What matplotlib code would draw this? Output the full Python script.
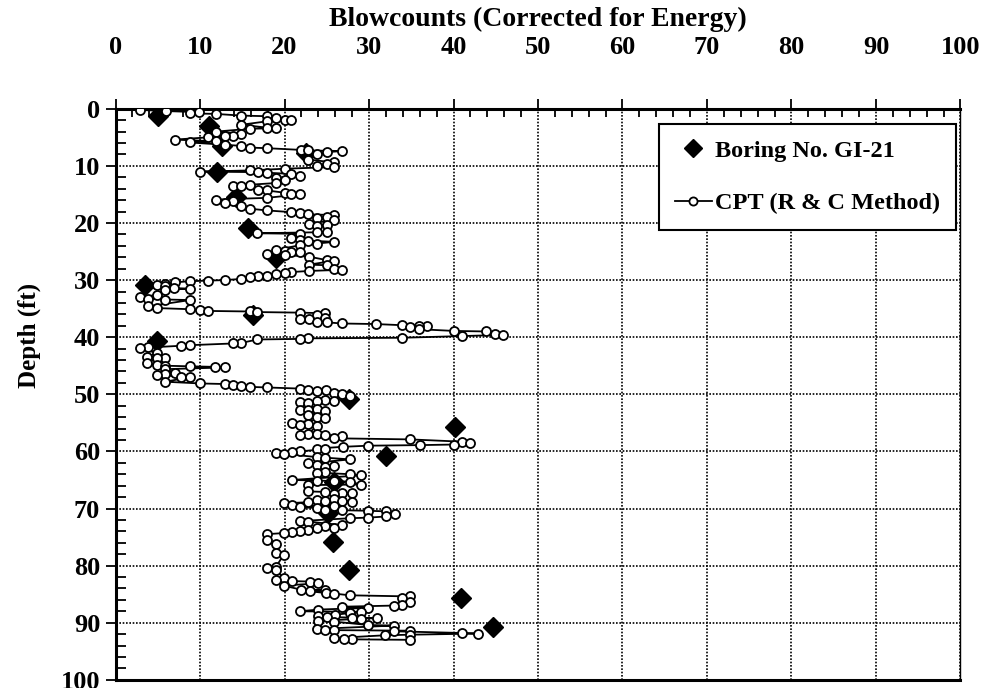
import numpy as np
import matplotlib
matplotlib.use("Agg")
import matplotlib.pyplot as plt
from matplotlib.ticker import MultipleLocator

plt.rcParams["font.family"] = ["Liberation Serif", "DejaVu Serif"]
plt.rcParams["font.weight"] = "bold"

# SPT blowcounts, Boring No. GI-21
spt_depth = [1.2, 3.1, 6.6, 7.8, 11.1, 15.4, 20.8, 26.2, 30.9, 36.1,
             40.6, 50.8, 55.8, 60.8, 65.3, 70.8, 75.8, 80.8, 85.6, 90.8]
spt_blows = [5.0, 11.1, 12.6, 22.6, 12.0, 14.3, 15.7, 19.0, 3.5, 16.3,
             4.9, 27.6, 40.2, 32.0, 25.8, 25.1, 25.7, 27.6, 40.9, 44.7]

# CPT equivalent blowcounts (R & C method)
cpt_depth = [
    0.2, 0.4, 0.6, 0.8, 0.9, 1.2, 1.3, 1.7, 1.9, 2.0,
    2.2, 2.8, 3.3, 3.4, 3.5, 4.0, 4.4, 4.7, 4.8, 5.0,
    5.4, 5.7, 5.9, 6.3, 6.5, 6.8, 6.9, 7.2, 7.3, 7.4,
    7.6, 8.0, 8.9, 9.4, 9.6, 10.0, 10.2, 10.5, 10.8, 11.0,
    11.1, 11.2, 11.4, 11.7, 12.1, 12.4, 13.0, 13.3, 13.5, 13.6,
    14.2, 14.3, 14.7, 14.9, 15.0, 15.6, 15.9, 16.2, 16.5, 17.1,
    17.5, 17.8, 18.1, 18.3, 18.5, 18.6, 18.9, 19.2, 19.4, 20.2,
    20.4, 20.6, 21.5, 21.6, 21.8, 21.9, 22.6, 23.0, 23.1, 23.3,
    23.6, 23.9, 24.7, 24.9, 25.0, 25.1, 25.5, 25.6, 25.9, 26.5,
    26.6, 27.3, 27.4, 28.0, 28.2, 28.4, 28.6, 28.8, 29.0, 29.2,
    29.3, 29.5, 29.8, 30.0, 30.1, 30.2, 30.4, 30.6, 30.8, 31.0,
    31.4, 31.5, 31.7, 32.6, 33.0, 33.3, 33.4, 33.5, 34.6, 34.9,
    35.1, 35.3, 35.4, 35.5, 35.6, 35.7, 35.8, 36.2, 36.6, 36.8,
    36.9, 37.3, 37.4, 37.6, 37.7, 37.9, 38.0, 38.1, 38.3, 38.6,
    38.9, 39.0, 39.4, 39.6, 39.8, 40.1, 40.2, 40.3, 40.4, 41.0,
    41.1, 41.4, 41.5, 41.8, 41.9, 42.8, 43.4, 43.6, 43.7, 44.6,
    44.9, 45.0, 45.1, 45.2, 45.3, 45.6, 46.3, 46.4, 46.6, 46.9,
    47.0, 47.8, 48.1, 48.2, 48.4, 48.5, 48.7, 48.8, 49.0, 49.2,
    49.3, 49.5, 49.7, 50.0, 50.3, 51.0, 51.1, 51.2, 51.3, 51.6,
    52.6, 52.7, 52.8, 52.9, 53.7, 54.0, 54.2, 55.1, 55.2, 55.4,
    55.6, 56.9, 57.0, 57.1, 57.2, 57.3, 57.7, 57.9, 58.3, 58.6,
    58.8, 58.9, 59.0, 59.2, 59.5, 59.6, 60.0, 60.1, 60.2, 60.4,
    61.0, 61.1, 61.4, 62.1, 62.4, 62.5, 62.7, 63.6, 63.7, 64.0,
    64.2, 65.0, 65.1, 65.2, 65.3, 65.8, 65.9, 67.0, 67.1, 67.2,
    67.3, 67.4, 68.4, 68.5, 68.6, 68.7, 68.8, 68.9, 69.1, 69.4,
    69.6, 69.8, 69.9, 70.2, 70.3, 70.4, 70.5, 70.9, 71.4, 71.6,
    71.7, 72.2, 72.3, 72.9, 73.1, 73.4, 73.5, 73.7, 74.0, 74.1,
    74.3, 74.5, 75.5, 76.3, 77.8, 78.1, 80.2, 80.5, 80.8, 82.2,
    82.5, 82.7, 82.8, 83.1, 83.5, 84.2, 84.3, 84.5, 84.8, 84.9,
    85.2, 85.4, 85.7, 86.3, 86.9, 87.0, 87.2, 87.4, 87.7, 88.0,
    88.1, 88.3, 88.6, 88.9, 89.0, 89.1, 89.2, 89.3, 89.7, 89.8,
    90.4, 90.5, 91.1, 91.2, 91.3, 91.4, 91.5, 91.8, 91.9, 92.1,
    92.2, 92.7, 92.8, 92.9, 93.0,
]
cpt_blows = [
    2.9, 6.0, 9.9, 8.8, 11.9, 14.9, 17.9, 19.0, 20.0, 20.8,
    17.9, 14.9, 17.9, 19.0, 15.9, 11.9, 14.9, 13.9, 13.0, 11.0,
    7.0, 11.9, 8.8, 13.0, 14.9, 15.9, 17.9, 21.9, 22.8, 26.8,
    25.0, 23.9, 22.8, 25.9, 25.0, 23.9, 25.9, 20.0, 15.9, 10.0,
    16.9, 17.9, 20.8, 21.8, 19.0, 20.0, 19.0, 15.9, 13.9, 14.9,
    16.9, 17.9, 20.0, 20.8, 21.8, 17.9, 11.9, 13.9, 12.9, 14.9,
    15.9, 17.9, 20.8, 21.8, 22.8, 25.9, 25.0, 23.9, 25.9, 22.9,
    25.0, 23.9, 23.9, 25.0, 16.8, 21.8, 20.8, 21.8, 22.8, 25.9,
    23.9, 21.8, 19.0, 20.0, 20.8, 21.8, 17.9, 20.0, 22.9, 25.0,
    25.9, 22.9, 25.0, 25.9, 26.8, 22.9, 20.8, 20.0, 19.0, 17.9,
    16.9, 15.9, 14.9, 12.9, 10.9, 8.8, 7.0, 5.9, 4.9, 5.9,
    6.9, 8.8, 5.9, 4.9, 2.9, 3.9, 5.9, 8.8, 3.9, 4.9,
    8.8, 10.0, 10.9, 15.9, 16.8, 21.8, 24.8, 23.9, 24.8, 22.9,
    21.8, 23.9, 25.0, 26.8, 30.8, 33.9, 36.9, 35.9, 34.9, 35.9,
    40.0, 43.9, 44.9, 45.9, 41.0, 33.9, 22.8, 21.8, 16.8, 14.9,
    13.9, 8.8, 7.8, 3.9, 2.9, 4.9, 3.7, 5.9, 4.9, 3.7,
    4.9, 5.9, 8.8, 11.8, 12.9, 5.9, 7.0, 5.9, 4.9, 7.8,
    8.8, 5.9, 10.0, 12.9, 13.9, 14.9, 15.9, 17.9, 21.8, 22.8,
    24.9, 23.9, 25.9, 26.8, 27.8, 24.8, 25.8, 23.8, 21.8, 22.8,
    23.8, 21.8, 22.8, 24.8, 22.8, 23.8, 24.8, 20.9, 22.8, 21.8,
    23.8, 22.8, 23.8, 21.8, 24.8, 26.8, 25.8, 34.9, 41.0, 42.0,
    40.0, 36.0, 29.9, 26.9, 23.8, 24.8, 21.8, 20.9, 19.0, 19.9,
    23.8, 24.8, 27.8, 22.8, 23.8, 25.8, 24.8, 24.8, 23.8, 27.8,
    29.0, 20.9, 23.8, 25.8, 27.8, 29.0, 22.8, 22.8, 24.8, 26.8,
    28.0, 25.8, 25.8, 23.8, 24.8, 26.8, 28.0, 22.8, 19.9, 20.9,
    25.8, 21.8, 23.8, 24.8, 26.8, 29.9, 32.0, 33.1, 32.0, 29.9,
    27.8, 21.8, 22.8, 26.8, 24.8, 25.8, 23.8, 22.8, 21.8, 20.9,
    19.9, 17.9, 17.9, 19.0, 19.0, 19.9, 19.0, 17.9, 19.0, 19.9,
    19.0, 20.9, 23.0, 24.0, 19.9, 21.9, 24.8, 23.0, 24.9, 25.9,
    27.7, 34.9, 33.9, 34.9, 33.9, 32.9, 26.8, 29.9, 24.0, 21.8,
    29.0, 27.8, 26.0, 24.0, 25.0, 28.0, 30.9, 29.0, 24.0, 25.8,
    29.9, 32.9, 23.8, 24.8, 25.8, 34.9, 32.9, 41.0, 42.9, 34.9,
    31.9, 25.8, 28.0, 27.0, 34.9,
]

fig = plt.figure(figsize=(9.84, 6.88), dpi=100)
ax = fig.add_axes([0.1174, 0.0119, 0.8587, 0.8300])

ax.plot(spt_blows, spt_depth, linestyle="none", marker="D", markersize=10.5,
        color="black", label="Boring No. GI-21", zorder=3)
ax.plot(cpt_blows, cpt_depth, color="black", linewidth=1.3, marker="o",
        markersize=6.5, markerfacecolor="white", markeredgecolor="black",
        markeredgewidth=1.3, label="CPT (R & C Method)", zorder=4)

ax.set_xlim(0, 100)
ax.set_ylim(100, 0)
ax.xaxis.tick_top()
ax.xaxis.set_label_position("top")
ax.xaxis.set_major_locator(MultipleLocator(10))
ax.xaxis.set_minor_locator(MultipleLocator(2))
ax.yaxis.set_major_locator(MultipleLocator(10))
ax.yaxis.set_minor_locator(MultipleLocator(2))
ax.tick_params(which="major", direction="out", length=7, width=1.3,
               labelsize=19, top=True, bottom=False, left=True, right=False)
ax.tick_params(axis="x", which="major", pad=29)
ax.tick_params(axis="y", which="major", pad=4)
ax.tick_params(which="minor", direction="in", length=6, width=1.3,
               top=True, bottom=False, left=True, right=False)
ax.tick_params(axis="y", which="minor", length=7)

ax.grid(True, which="major", color="black", linestyle=(0, (1, 1)), linewidth=1.2)
for side in ["top", "left", "bottom"]:
    ax.spines[side].set_linewidth(2.2)
ax.spines["right"].set_linewidth(1.0)

ax.set_xlabel("Blowcounts (Corrected for Energy)", fontsize=20,
              fontweight="bold", labelpad=7)
fig.text(0.030, 0.512, "Depth (ft)", rotation=90, fontsize=18,
         fontweight="bold", ha="center", va="center")

leg = ax.legend(loc="upper right", bbox_to_anchor=(0.995, 0.973),
                borderaxespad=0, fontsize=17.5, frameon=True, fancybox=False,
                edgecolor="black", framealpha=1, handlelength=1.5,
                handletextpad=0.15, borderpad=0.65, labelspacing=1.25,
                markerscale=0.9)
leg.get_frame().set_linewidth(1.5)

fig.savefig("out.png", dpi=100)
